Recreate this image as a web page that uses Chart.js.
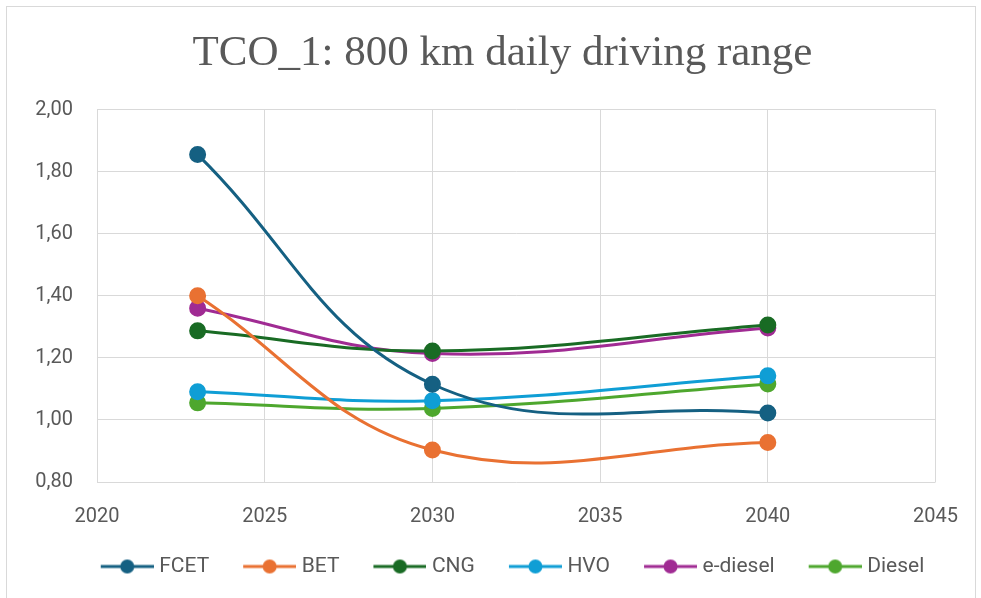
<!DOCTYPE html>
<html>
<head>
<meta charset="utf-8">
<script src="https://cdn.jsdelivr.net/npm/chart.js@4/dist/chart.umd.min.js"></script>
<style>
  html, body { margin: 0; padding: 0; background: #fff; }
  #wrap { position: relative; width: 981px; height: 598px; }
</style>
</head>
<body>
<div id="wrap"><canvas id="myChart" width="981" height="598"></canvas></div>
<script>
'use strict';

// years on the x axis
let years = [2023, 2030, 2040];

let seriesNames = ['FCET', 'BET', 'CNG', 'HVO', 'e-diesel', 'Diesel'];
let fcet = [1.855, 1.115, 1.022];
let bet = [1.400, 0.903, 0.927];
let cng = [1.287, 1.222, 1.306];
let hvo = [1.091, 1.062, 1.142];
let eDiesel = [1.360, 1.214, 1.296];
let diesel = [1.055, 1.037, 1.116];

let xTicks = [2020, 2025, 2030, 2035, 2040, 2045];
let yTicks = [0.80, 1.00, 1.20, 1.40, 1.60, 1.80, 2.00];

let colors = ['#156082', '#E97132', '#196B24', '#0F9ED5', '#A02B93', '#4EA72E'];
let allValues = [fcet, bet, cng, hvo, eDiesel, diesel];

const ctx = document.getElementById('myChart').getContext('2d');

// line + dot picture for each legend entry (left margin gives the gap between items)
function legendIcon(color) {
  let c = document.createElement('canvas');
  c.width = 78;
  c.height = 18;
  let g = c.getContext('2d');
  g.strokeStyle = color;
  g.lineWidth = 3;
  g.beginPath();
  g.moveTo(25, 9);
  g.lineTo(78, 9);
  g.stroke();
  g.fillStyle = color;
  g.beginPath();
  g.arc(51.5, 9, 7, 0, Math.PI * 2);
  g.fill();
  return c;
}

let datasets = [];
for (let i = 0; i < seriesNames.length; i++) {
  let pts = [];
  for (let j = 0; j < years.length; j++) {
    pts.push({ x: years[j], y: allValues[i][j] });
  }
  datasets.push({
    label: seriesNames[i],
    data: pts,
    borderColor: colors[i],
    backgroundColor: colors[i],
    pointBackgroundColor: colors[i],
    pointBorderColor: colors[i],
    borderWidth: 3,
    pointRadius: 7,
    pointHoverRadius: 7,
    pointStyle: 'circle',
    tension: 0.4,
    fill: false
  });
}

const frame = {
  id: 'frame',
  beforeDraw(chart) {
    let g = chart.ctx;
    g.save();
    g.fillStyle = '#ffffff';
    g.fillRect(0, 0, chart.width, chart.height);
    g.strokeStyle = '#d9d9d9';
    g.lineWidth = 1;
    g.strokeRect(6.5, 6.5, 969, 600);
    g.restore();
  }
};

let tickFont = { family: 'Roboto, "Liberation Sans", sans-serif', size: 20 };

let chartObject = {
  type: 'line',
  data: { datasets: datasets },
  plugins: [frame],
  options: {
    responsive: false,
    animation: false,
    layout: { padding: { left: 32, right: 8, top: 0, bottom: 11 } },
    plugins: {
      title: {
        display: true,
        text: 'TCO_1: 800 km daily driving range',
        color: '#595959',
        font: { family: '"Liberation Serif", "Times New Roman", serif', size: 43, weight: 'normal' },
        padding: { top: 28, bottom: 30 }
      },
      legend: {
        position: 'bottom',
        labels: {
          usePointStyle: true,
          pointStyleWidth: 68,
          color: '#595959',
          padding: 14,
          font: { family: 'Roboto, "Liberation Sans", sans-serif', size: 21 },
          generateLabels(chart) {
            return chart.data.datasets.map((ds, i) => ({
              text: ds.label,
              fillStyle: ds.borderColor,
              strokeStyle: ds.borderColor,
              fontColor: '#595959',
              lineWidth: 0,
              pointStyle: legendIcon(ds.borderColor),
              hidden: false,
              datasetIndex: i
            }));
          }
        }
      },
      tooltip: { enabled: false }
    },
    scales: {
      x: {
        type: 'linear',
        min: xTicks[0],
        max: xTicks[xTicks.length - 1],
        afterBuildTicks(scale) {
          scale.ticks = xTicks.map(v => ({ value: v }));
        },
        afterFit(scale) {
          scale.height = 60;
        },
        grid: { color: '#d9d9d9', lineWidth: 1, drawTicks: false },
        border: { display: false },
        ticks: {
          color: '#595959',
          padding: 23,
          font: tickFont,
          callback: v => String(v)
        }
      },
      y: {
        min: yTicks[0],
        max: yTicks[yTicks.length - 1],
        afterBuildTicks(scale) {
          scale.ticks = yTicks.map(v => ({ value: v }));
        },
        afterFit(scale) {
          scale.width = 65;
        },
        grid: { color: '#d9d9d9', lineWidth: 1, drawTicks: false },
        border: { display: false },
        ticks: {
          color: '#595959',
          padding: 24,
          font: tickFont,
          callback: v => Number(v).toFixed(2).replace('.', ',')
        }
      },
      // empty right-hand scale, only keeps the plot's right edge in place
      yRight: {
        position: 'right',
        display: true,
        min: 0,
        max: 1,
        afterFit(scale) {
          scale.width = 36;
        },
        grid: { display: false, drawTicks: false },
        border: { display: false },
        ticks: { display: false }
      }
    }
  }
};

new Chart(ctx, chartObject);
</script>
</body>
</html>
